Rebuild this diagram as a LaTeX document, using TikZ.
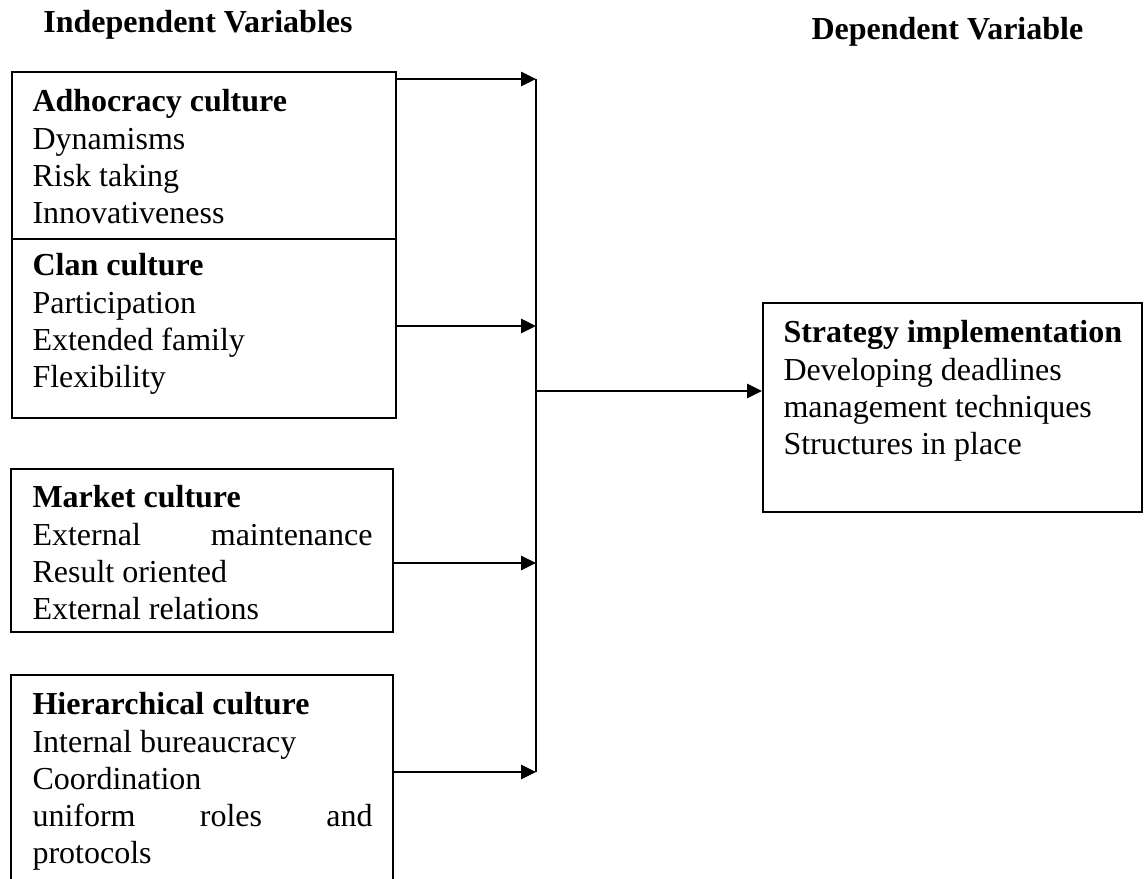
\documentclass[tikz,border=0pt]{standalone}
\usepackage{fontspec}
\setmainfont{Liberation Serif}
\usetikzlibrary{arrows.meta, positioning, fit}
\tikzset{
    culture/.style={
        rectangle,
        draw=black,
        line width=0.75pt,
        inner sep=0pt
    },
    itemlist/.style={
        anchor=base west,
        inner sep=0pt,
        text width=127.5pt,
        align=flush left,
        font=\fontsize{12pt}{13.9pt}\selectfont
    },
    heading/.style={
        anchor=base,
        inner sep=0pt,
        font=\fontsize{12pt}{13.9pt}\selectfont\bfseries
    },
    wire/.style={
        draw=black,
        line width=1pt,
        -{Triangle[length=5.6pt, width=5.3pt]}
    },
    bus/.style={
        draw=black,
        line width=0.75pt
    }
}
\begin{document}
\begin{tikzpicture}[x=0.375pt, y=-0.375pt]
\clip (0,0) rectangle (1144,879);

% Headings
\node[heading] (indep) at (198,33) {Independent Variables};
\node[heading, anchor=base west] (dep) at (811,40) {Dependent Variable};

% Independent variables
\node[culture, fit={(12,72) (396,239)}] (adhoc) {};
\node[culture, fit={(12,239) (396,418)}] (clan) {};
\node[culture, fit={(11,469) (393,632)}] (market) {};
\node[culture, fit={(11,675) (393,900)}] (hier) {};

\node[itemlist] (adhoctxt) at (32,112) {\textbf{Adhocracy culture}\\Dynamisms\\Risk taking\\Innovativeness};
\node[itemlist] (clantxt) at (32,276) {\textbf{Clan culture}\\Participation\\Extended family\\Flexibility};
\node[itemlist] (markettxt) at (32,508) {\textbf{Market culture}\\External\hfill maintenance\\Result oriented\\External relations};
\node[itemlist] (hiertxt) at (32,715) {\textbf{Hierarchical culture}\\Internal bureaucracy\\Coordination\\uniform\hfill roles\hfill and\\protocols};

% Dependent variable
\node[culture, fit={(763,303) (1142,512)}] (strategy) {};
\node[itemlist, text width=140pt] (strategytxt) at (783,343) {\textbf{Strategy implementation}\\Developing deadlines\\management techniques\\Structures in place};

% Connectors
\coordinate (bustop) at (536,79);
\coordinate (clanin) at (536,326);
\coordinate (busout) at (536,391);
\coordinate (marketin) at (536,563);
\coordinate (busbot) at (536,772);

\draw[bus] (bustop) -- (busbot);
\draw[wire] (adhoc.east |- bustop) -- (bustop);
\draw[wire] (clan.east |- clanin) -- (clanin);
\draw[wire] (market.east |- marketin) -- (marketin);
\draw[wire] (hier.east |- busbot) -- (busbot);
\draw[wire] (busout) -- (strategy.west |- busout);

\end{tikzpicture}
\end{document}
